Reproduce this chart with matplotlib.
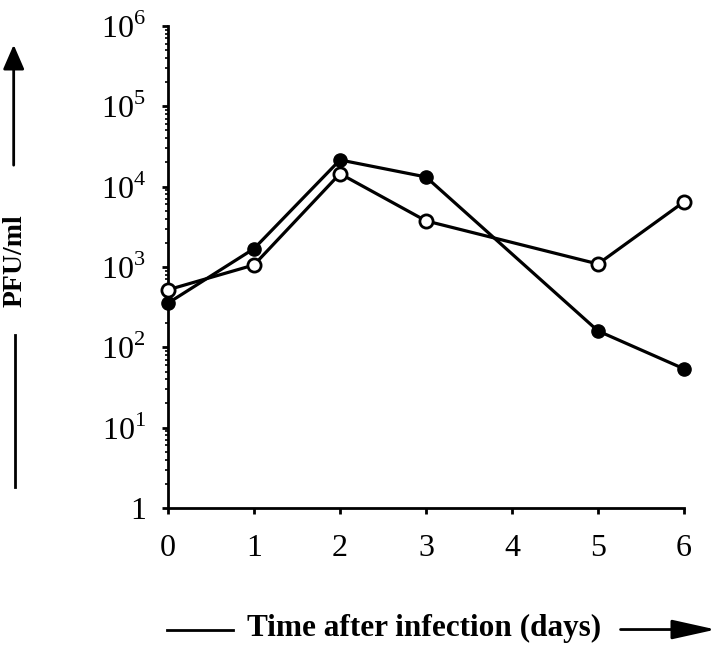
import matplotlib
matplotlib.use("Agg")
import matplotlib.pyplot as plt
from matplotlib.ticker import LogLocator, NullFormatter

plt.rcParams['font.family'] = 'Liberation Serif'
plt.rcParams['mathtext.fontset'] = 'custom'
plt.rcParams['mathtext.rm'] = 'Liberation Serif'

# data
days = [0, 1, 2, 3, 5, 6]
pfu_filled = [355, 1690, 21500, 13200, 160, 54]
pfu_open = [520, 1060, 14500, 3750, 1090, 6470]

x_ticks = [0, 1, 2, 3, 4, 5, 6]
y_ticks = [1, 1e1, 1e2, 1e3, 1e4, 1e5, 1e6]
y_labels = ["1", "$10^1$", "$10^2$", "$10^3$", "$10^4$", "$10^5$", "$10^6$"]

fig = plt.figure(figsize=(7.2, 6.46), dpi=100)
ax = fig.add_axes([0.2333, 0.2136, 0.7167, 0.7462])

ax.plot(days, pfu_open, color="black", lw=2.3, marker="o", ms=9.5,
        mfc="white", mec="black", mew=2, zorder=3, clip_on=False)
ax.plot(days, pfu_filled, color="black", lw=2.3, marker="o", ms=9.5,
        mfc="black", mec="black", zorder=4, clip_on=False)

ax.set_yscale("log")
ax.set_xlim(0, 6)
ax.set_ylim(1, 1e6)
ax.set_xticks(x_ticks)
ax.set_xticklabels([str(t) for t in x_ticks])
ax.set_yticks(y_ticks)
ax.set_yticklabels(y_labels)
ax.yaxis.set_minor_locator(LogLocator(base=10, subs=range(2, 10), numticks=20))
ax.yaxis.set_minor_formatter(NullFormatter())

for s in ["top", "right"]:
    ax.spines[s].set_visible(False)
for s in ["left", "bottom"]:
    ax.spines[s].set_linewidth(2)
    ax.spines[s].set_color("black")

ax.tick_params(axis="both", which="major", width=2, length=4,
               direction="out", colors="black")
ax.tick_params(axis="x", labelsize=23, pad=15)
ax.tick_params(axis="y", labelsize=23, pad=12)
ax.tick_params(axis="y", which="minor", width=1.2, length=2.5)

# x label with line and arrow
fig.text(0.343, 0.0155, "Time after infection (days)", ha="left", va="baseline",
         fontsize=22.5, fontweight="bold")
fig.add_artist(plt.Line2D([0.232, 0.324], [0.0248, 0.0248], color="black", lw=2))
ax.annotate("", xy=(0.998, 0.0255), xytext=(0.858, 0.0255), xycoords="figure fraction",
            arrowprops=dict(arrowstyle="-|>,head_length=2.7,head_width=0.6",
                            color="black", lw=2))

# y label with line and arrow
fig.text(0.021, 0.596, "PFU/ml", ha="center", va="center", rotation=90,
         fontsize=20, fontweight="bold")
fig.add_artist(plt.Line2D([0.021, 0.021], [0.246, 0.481], color="black", lw=2))
ax.annotate("", xy=(0.019, 0.935), xytext=(0.019, 0.74), xycoords="figure fraction",
            arrowprops=dict(arrowstyle="-|>,head_length=1.5,head_width=0.65",
                            color="black", lw=2))

fig.savefig("out.png", dpi=100)
